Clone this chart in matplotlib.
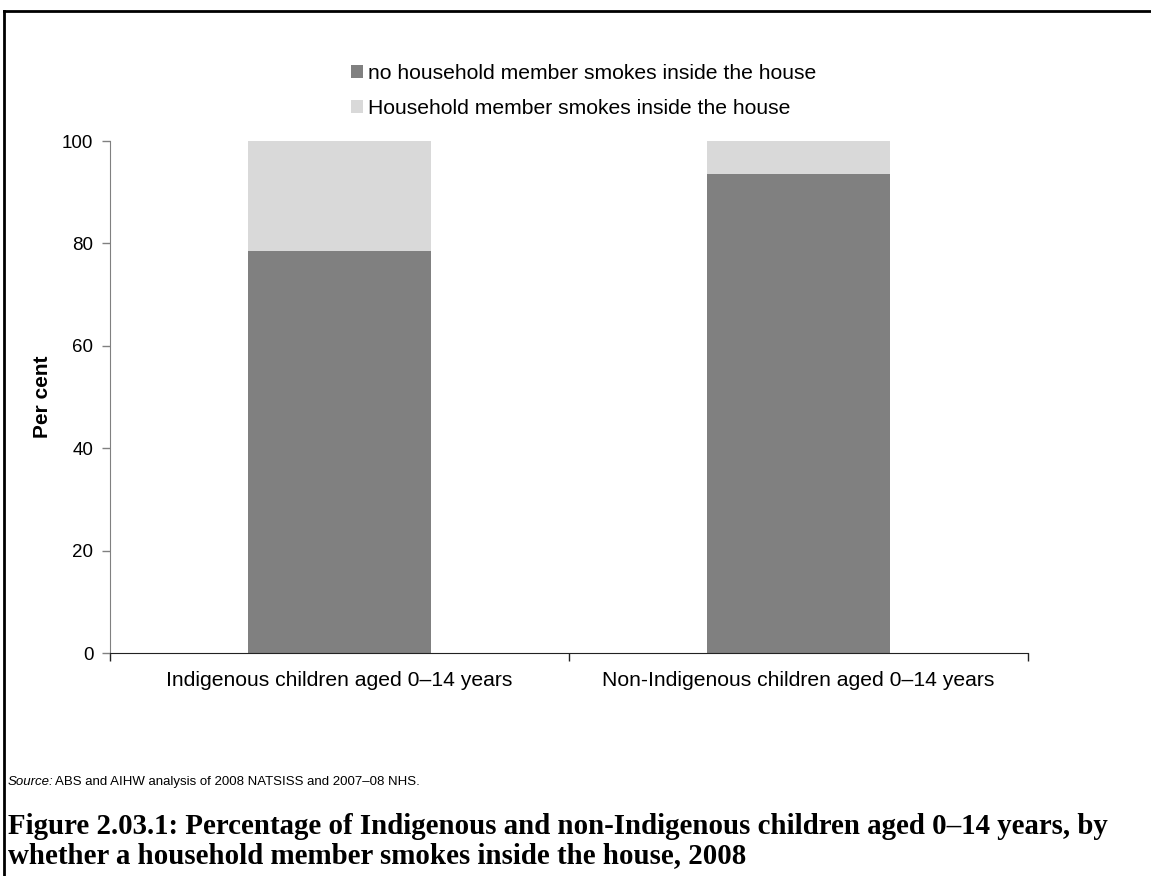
import matplotlib.pyplot as plt
from matplotlib.lines import Line2D

# Smoking inside the house, children aged 0-14, 2008 (per cent)
categories = ["Indigenous children aged 0\u201314 years",
              "Non-Indigenous children aged 0\u201314 years"]
no_smoker = [78.5, 93.6]
smoker = [100 - v for v in no_smoker]
series_labels = ["no household member smokes inside the house",
                 "Household member smokes inside the house"]
yticks = [0, 20, 40, 60, 80, 100]

plt.rcParams['font.family'] = ['Liberation Sans', 'DejaVu Sans']

W, H = 1151, 876
fig = plt.figure(figsize=(W / 100, H / 100), dpi=100)
ax = fig.add_axes([110 / W, 223 / H, 918 / W, 512 / H])

x = range(len(categories))
ax.bar(x, no_smoker, width=0.4, color='#808080', label=series_labels[0])
ax.bar(x, smoker, bottom=no_smoker, width=0.4, color='#d9d9d9',
       label=series_labels[1])

ax.set_xlim(-0.5, 1.5)
ax.set_ylim(0, 100)
ax.set_yticks(yticks)
ax.tick_params(axis='y', labelsize=13.5, length=6, width=1, color='#808080', pad=6)

# category boundaries get the tick marks, labels sit between them
ax.set_xticks([-0.5, 0.5, 1.5])
ax.set_xticklabels([])
ax.set_xticks(list(x), minor=True)
ax.set_xticklabels(categories, minor=True, fontsize=15.2)
ax.tick_params(axis='x', which='major', length=6, width=1, color='#222222')
ax.tick_params(axis='x', which='minor', length=0, pad=13)

for side in ['top', 'right']:
    ax.spines[side].set_visible(False)
ax.spines['left'].set_color('#808080')
ax.spines['bottom'].set_color('#222222')

ax.set_ylabel("Per cent", fontsize=15, fontweight='bold', va='center')
ax.yaxis.set_label_coords(-68 / 918, 0.5)

ax.legend(loc='center', bbox_to_anchor=((584 - 110) / 918, (653 - 91) / 512),
          frameon=False, fontsize=15.2, handlelength=0.55, handleheight=0.55,
          handletextpad=0.25, labelspacing=0.78)

# source note and caption below the chart
src = fig.text(8 / W, 1 - 782 / H, "Source:", fontsize=9.5, style='italic',
               va='center', ha='left')
fig.canvas.draw()
bb = src.get_window_extent()
fig.text((bb.x1 + 1) / W, 1 - 782 / H,
         "ABS and AIHW analysis of 2008 NATSISS and 2007\u201308 NHS.",
         fontsize=9.5, va='center', ha='left')
caption = ["Figure 2.03.1: Percentage of Indigenous and non-Indigenous children aged 0\u201314 years, by",
           "whether a household member smokes inside the house, 2008"]
for line, yc in zip(caption, [826, 856]):
    fig.text(8 / W, 1 - yc / H, line, fontsize=20.8, fontweight='bold',
             family=['Liberation Serif', 'DejaVu Serif'], va='center', ha='left')

# page frame: top and left rules
fig.add_artist(Line2D([4 / W, 1], [1 - 11 / H, 1 - 11 / H],
                      transform=fig.transFigure, color='black', lw=2))
fig.add_artist(Line2D([4 / W, 4 / W], [0, 1 - 11 / H],
                      transform=fig.transFigure, color='black', lw=2))

fig.savefig("out.png", dpi=100)
